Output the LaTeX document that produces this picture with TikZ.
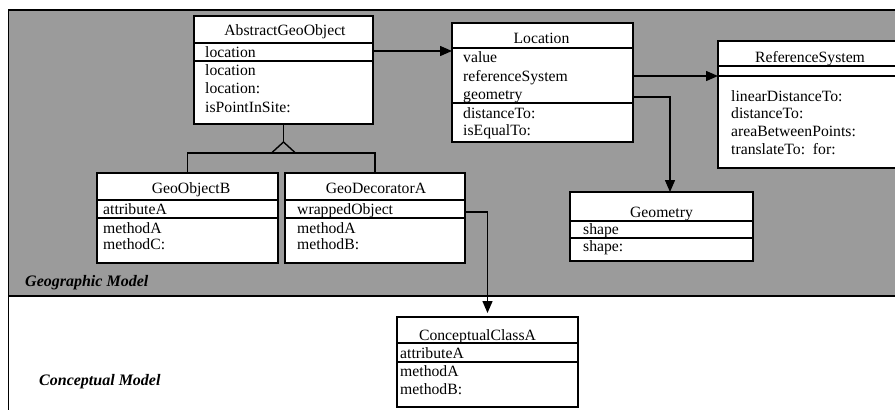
\documentclass[tikz,border=0pt]{standalone}
\usepackage{fontspec}
\setmainfont{Liberation Serif}
\usetikzlibrary{arrows.meta,fit}
\definecolor{geogray}{RGB}{155,155,155}
\tikzset{
  classbox/.style={draw=black, fill=white, line width=1.6pt, inner sep=0pt, outer sep=0pt},
  sepline/.style={line width=1.5pt},
  txt/.style={inner sep=0pt, text height=10.5pt, text depth=0pt, font=\fontsize{15.7}{18}\selectfont},
  member/.style={txt, anchor=west},
  title/.style={txt},
  link/.style={line width=1.4pt},
  assoc/.style={link, -{Triangle[length=12pt,width=10pt]}},
  model/.style={anchor=west, inner sep=0pt, text height=10.5pt, text depth=0pt,
                font=\fontsize{16}{18}\selectfont\bfseries\itshape},
}
% class box from its corners: #1 name, (#2,#3) top left, (#4,#5) bottom right
\newcommand{\classbox}[5]{%
  \coordinate (#1-nw) at (#2,#3);
  \coordinate (#1-se) at (#4,#5);
  \node[classbox, fit=(#1-nw)(#1-se)] (#1) {};
}
\newcommand{\sep}[3]{\draw[sepline] (#1,#3) -- (#2,#3);}
\begin{document}
\begin{tikzpicture}[x=1pt,y=-1pt]
\clip (0,0) rectangle (895,410);
\fill[white] (0,0) rectangle (895,410);

% package areas
\fill[geogray] (9,10) rectangle (895,296);
\draw[line width=1.3pt] (895,10) -- (8.5,10) -- (8.5,410);
\draw[line width=1.8pt] (8.5,296) -- (895,296);
\node[model] (geomodel) at (25,281) {Geographic Model};
\node[model] (conmodel) at (39,380) {Conceptual Model};

% AbstractGeoObject
\classbox{abs}{194}{16}{373}{124}
\sep{194}{373}{43}\sep{194}{373}{61}
\node[title] (abs-t) at (285,30) {AbstractGeoObject};
\node[member] (abs-a1) at (205,52) {location};
\node[member] (abs-m1) at (205,70) {location};
\node[member] (abs-m2) at (205,88) {location:};
\node[member] (abs-m3) at (205,107) {isPointInSite:};

% Location
\classbox{loc}{452}{23}{633}{142}
\sep{452}{633}{48}\sep{452}{633}{103}
\node[title] (loc-t) at (541.5,38) {Location};
\node[member] (loc-a1) at (463,57) {value};
\node[member] (loc-a2) at (463,76) {referenceSystem};
\node[member] (loc-a3) at (463,94) {geometry};
\node[member] (loc-m1) at (463,113) {distanceTo:};
\node[member] (loc-m2) at (463,130) {isEqualTo:};

% ReferenceSystem
\classbox{ref}{718}{41}{902}{168}
\sep{718}{902}{66}\sep{718}{902}{76}
\node[title] (ref-t) at (810,57) {ReferenceSystem};
\node[member] (ref-m1) at (731,96) {linearDistanceTo:};
\node[member] (ref-m2) at (731,113) {distanceTo:};
\node[member] (ref-m3) at (731,131) {areaBetweenPoints:};
\node[member] (ref-m4) at (731,149) {translateTo:~~for:};

% Geometry
\classbox{geo}{570}{192}{753}{261}
\sep{570}{753}{221}\sep{570}{753}{238}
\node[title] (geo-t) at (661.5,212) {Geometry};
\node[member] (geo-a1) at (583,229) {shape};
\node[member] (geo-m1) at (583,246) {shape:};

% GeoObjectB
\classbox{gob}{97}{173}{278}{263}
\sep{97}{278}{200}\sep{97}{278}{218}
\node[title] (gob-t) at (191,188) {GeoObjectB};
\node[member] (gob-a1) at (103,209) {attributeA};
\node[member] (gob-m1) at (103,228) {methodA};
\node[member] (gob-m2) at (103,244) {methodC:};

% GeoDecoratorA
\classbox{deco}{285}{173}{465}{263}
\sep{285}{465}{200}\sep{285}{465}{218}
\node[title] (deco-t) at (376,188) {GeoDecoratorA};
\node[member] (deco-a1) at (297,209) {wrappedObject};
\node[member] (deco-m1) at (297,228) {methodA};
\node[member] (deco-m2) at (297,244) {methodB:};

% ConceptualClassA
\classbox{con}{397}{317}{578}{407}
\sep{397}{578}{343}\sep{397}{578}{362}
\node[title] (con-t) at (477.5,335) {ConceptualClassA};
\node[member] (con-a1) at (400,353) {attributeA};
\node[member] (con-m1) at (400,371) {methodA};
\node[member] (con-m2) at (400,389) {methodB:};

% generalisation
\coordinate (apex) at (283.5,142);
\coordinate (bar) at (283.5,153);
\draw[link] (abs.south) -- (apex);
\draw[link] (apex) -- ++(-12,11) -- ++(24,0) -- cycle;
\draw[link] (gob.north -| 187.5,0) -- (187.5,153) -- (375,153) -- (deco.north);

% associations
\draw[assoc] ([yshift=-35pt]abs.north east) coordinate (s1) -- (s1 -| loc.west);
\draw[assoc] ([yshift=-53pt]loc.north east) coordinate (s2) -- (s2 -| ref.west);
\draw[assoc] ([yshift=-74pt]loc.north east) -| ([xshift=8.5pt]geo.north);
\draw[assoc, shorten >=4pt] ([yshift=-39pt]deco.north east) -| (con.north);
\end{tikzpicture}
\end{document}
